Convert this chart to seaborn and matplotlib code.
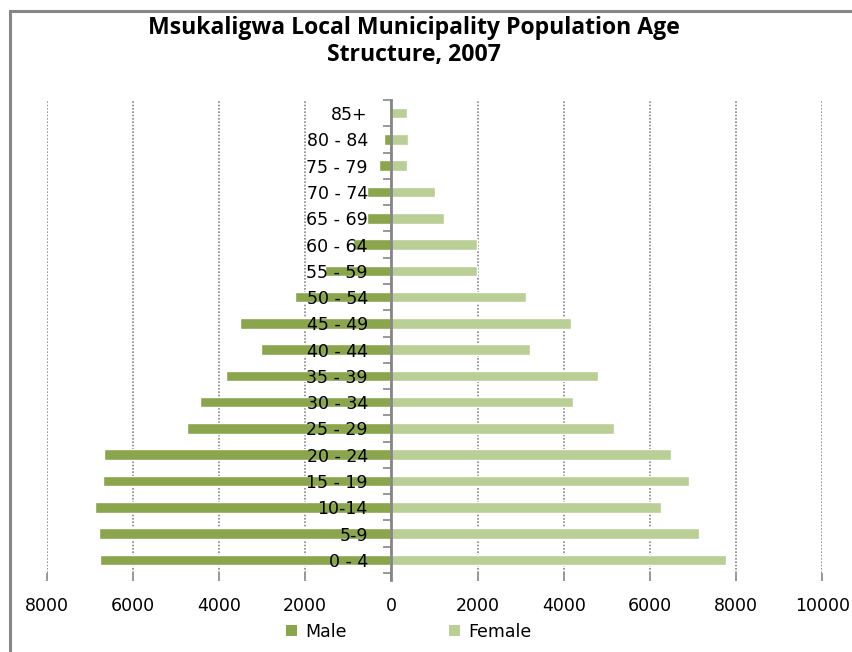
import numpy as np
import matplotlib
matplotlib.use("Agg")
import matplotlib.pyplot as plt
from matplotlib.patches import Patch, Rectangle
from matplotlib.ticker import FixedLocator, FuncFormatter
import seaborn as sns

# Age groups, oldest at the top of the pyramid
age_groups = ["85+", "80 - 84", "75 - 79", "70 - 74", "65 - 69", "60 - 64",
              "55 - 59", "50 - 54", "45 - 49", "40 - 44", "35 - 39", "30 - 34",
              "25 - 29", "20 - 24", "15 - 19", "10-14", "5-9", "0 - 4"]
male = [60, 180, 290, 560, 560, 880, 1540, 2240, 3520, 3030, 3840, 4440,
        4750, 6670, 6690, 6880, 6780, 6760]
female = [360, 380, 360, 1010, 1220, 1980, 1980, 3120, 4170, 3210, 4790, 4210,
          5160, 6490, 6900, 6250, 7150, 7760]
x_ticks = [-8000, -6000, -4000, -2000, 0, 2000, 4000, 6000, 8000, 10000]
title_lines = ["Msukaligwa Local Municipality Population Age", "Structure, 2007"]

male_color = "#8AA54C"
female_color = "#B9CF96"
grey = "#868686"

sns.set_style("white")
plt.rcParams["font.family"] = ["DejaVu Sans"]
plt.rcParams["text.color"] = "black"

fig = plt.figure(figsize=(8.53, 6.52), dpi=100)
ax = fig.add_axes([46.7 / 853, 1 - 573 / 652, (822.3 - 46.7) / 853, 473 / 652])

male_left = [-v for v in male]
sns.barplot(x=male_left, y=age_groups, order=age_groups, color=male_color,
            saturation=1, width=0.4, ax=ax, zorder=2)
sns.barplot(x=female, y=age_groups, order=age_groups, color=female_color,
            saturation=1, width=0.4, ax=ax, zorder=2)

ax.set_xlim(-8000, 10000)
ax.set_ylim(len(age_groups) - 0.5, -0.5)
ax.set_xlabel("")
ax.set_ylabel("")

# x axis: absolute values, dotted vertical gridlines
ax.xaxis.set_major_locator(FixedLocator(x_ticks))
ax.xaxis.set_major_formatter(FuncFormatter(lambda v, p: f"{abs(int(v))}"))
ax.grid(axis="x", color=grey, linestyle=(0, (1, 1)), linewidth=1.2)
ax.grid(axis="y", visible=False)
ax.tick_params(axis="x", which="major", direction="out", length=5.5, width=1.2,
               color=grey, pad=12, labelsize=12.5, labelcolor="black", bottom=True)

# y axis sits on the zero line; labels overlap the male bars
for side in ("top", "right", "bottom"):
    ax.spines[side].set_visible(False)
ax.spines["left"].set_position(("data", 0))
ax.spines["left"].set_color(grey)
ax.spines["left"].set_linewidth(2)
ax.spines["left"].set_bounds(len(age_groups) - 0.5 + 0.27, -0.5)
ax.spines["left"].set_zorder(3)
ax.yaxis.set_minor_locator(FixedLocator(np.arange(-0.5, len(age_groups), 1)))
ax.tick_params(axis="y", which="major", length=0, pad=17, labelsize=12.5,
               labelcolor="black", left=True)
ax.tick_params(axis="y", which="minor", direction="out", length=6, width=1.2,
               color=grey, left=True)

ax.set_axisbelow(True)
ax.yaxis.set_zorder(3)

# two-line title
for line, y_px in zip(title_lines, (28, 55)):
    fig.text(414 / 853, 1 - y_px / 652, line, ha="center", va="center",
             fontsize=16.6, fontweight="bold", color="black",
             family=["Open Sans", "DejaVu Sans"])

# legend
handles = [Patch(facecolor=male_color, edgecolor="none", label="Male"),
           Patch(facecolor=female_color, edgecolor="none", label="Female")]
fig.legend(handles=handles, loc="center", bbox_to_anchor=(409 / 853, 1 - 631.7 / 652),
           ncol=2, frameon=False, fontsize=12.5, handlelength=0.6, handleheight=0.6,
           handletextpad=0.5, columnspacing=5.9, labelcolor="black")

# chart border
fig.add_artist(Rectangle((10 / 853, -0.5), 1.5, 1.5 - 11 / 652, transform=fig.transFigure,
                         fill=False, edgecolor=grey, linewidth=2.2))

fig.savefig("out.png", dpi=100)
